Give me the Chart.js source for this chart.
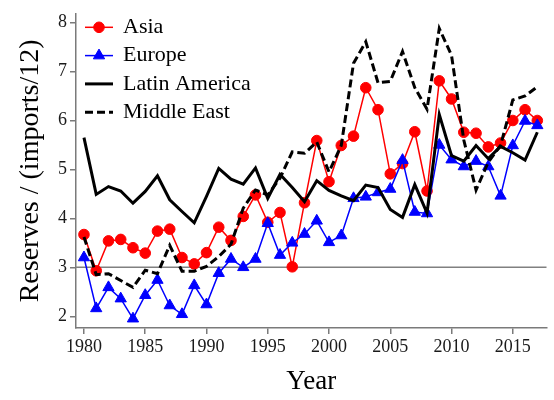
<!DOCTYPE html>
<html>
<head>
<meta charset="utf-8">
<script src="https://cdn.jsdelivr.net/npm/chart.js@4.4.1/dist/chart.umd.min.js"></script>
<style>
  html, body { margin: 0; padding: 0; background: #ffffff; }
</style>
</head>
<body>
<canvas id="reservesChart" width="554" height="400"></canvas>
<script>
// Reserves in months of imports, by region
const years = [1980, 1981, 1982, 1983, 1984, 1985, 1986, 1987, 1988, 1989,
               1990, 1991, 1992, 1993, 1994, 1995, 1996, 1997, 1998, 1999,
               2000, 2001, 2002, 2003, 2004, 2005, 2006, 2007, 2008, 2009,
               2010, 2011, 2012, 2013, 2014, 2015, 2016, 2017];

const asia = [3.67, 2.93, 3.54, 3.57, 3.40, 3.29, 3.74, 3.78, 3.20, 3.07,
              3.30, 3.82, 3.55, 4.04, 4.48, 3.92, 4.12, 3.01, 4.32, 5.59,
              4.75, 5.49, 5.68, 6.67, 6.22, 4.91, 5.12, 5.77, 4.56, 6.81,
              6.44, 5.76, 5.74, 5.46, 5.54, 6.00, 6.22, 6.00];

const europe = [3.20, 2.16, 2.59, 2.36, 1.95, 2.43, 2.74, 2.22, 2.04, 2.63,
                2.24, 2.88, 3.17, 3.00, 3.17, 3.90, 3.25, 3.50, 3.68, 3.95,
                3.51, 3.65, 4.41, 4.44, 4.53, 4.60, 5.19, 4.13, 4.10, 5.50,
                5.20, 5.06, 5.17, 5.06, 4.46, 5.49, 5.99, 5.90];

const latinAmerica = [5.65, 4.49, 4.65, 4.56, 4.31, 4.55, 4.87, 4.38, 4.14, 3.91,
                      4.45, 5.02, 4.80, 4.70, 5.03, 4.41, 4.90, 4.63, 4.34, 4.77,
                      4.57, 4.46, 4.36, 4.68, 4.63, 4.18, 4.02, 4.69, 4.11, 6.12,
                      5.28, 5.17, 5.49, 5.22, 5.47, 5.34, 5.19, 5.76];

const middleEast = [3.62, 2.85, 2.87, 2.73, 2.59, 2.94, 2.87, 3.45, 2.92, 2.92,
                    3.02, 3.22, 3.47, 4.21, 4.58, 4.48, 4.82, 5.36, 5.33, 5.56,
                    4.95, 5.49, 7.17, 7.61, 6.77, 6.80, 7.41, 6.67, 6.23, 7.88,
                    7.33, 5.60, 4.58, 5.15, 5.49, 6.42, 6.50, 6.69];

const xTicks = [1980, 1985, 1990, 1995, 2000, 2005, 2010, 2015];
const yTicks = [2, 3, 4, 5, 6, 7, 8];
const refLevel = 3;

const SERIF = '"Liberation Serif", "Times New Roman", serif';
const AXIS_GRAY = '#7a7a7a';

function toPoints(values) {
    return years.map((yr, i) => ({ x: yr, y: values[i] }));
}

// horizontal reference line, drawn under the series
const refLinePlugin = {
    id: 'refLine',
    beforeDatasetsDraw(chart) {
        const { ctx, chartArea, scales } = chart;
        const y = scales.y.getPixelForValue(refLevel);
        ctx.save();
        ctx.strokeStyle = '#808080';
        ctx.lineWidth = 1.5;
        ctx.beginPath();
        ctx.moveTo(chartArea.left, y);
        ctx.lineTo(chartArea.right, y);
        ctx.stroke();
        ctx.restore();
    }
};

// legend with line sample + marker, top-left inside the plot
const lineLegendPlugin = {
    id: 'lineLegend',
    afterDatasetsDraw(chart) {
        const { ctx, chartArea } = chart;
        const x0 = chartArea.left + 9;
        const sampleLen = 28;
        chart.data.datasets.forEach((ds, i) => {
            const y = chartArea.top + 13.5 + i * 28.3;
            ctx.save();
            ctx.strokeStyle = ds.borderColor;
            ctx.fillStyle = ds.borderColor;
            ctx.lineWidth = ds.borderWidth;
            ctx.setLineDash(ds.borderDash || []);
            ctx.beginPath();
            ctx.moveTo(x0, y);
            ctx.lineTo(x0 + sampleLen, y);
            ctx.stroke();
            ctx.setLineDash([]);
            if (ds.pointRadius > 0) {
                ctx.lineWidth = 1;
                Chart.helpers.drawPoint(ctx, {
                    pointStyle: ds.pointStyle,
                    radius: ds.pointRadius,
                    rotation: 0,
                    borderWidth: 1
                }, x0 + sampleLen / 2, y);
            }
            ctx.fillStyle = '#000000';
            ctx.font = '22px ' + SERIF;
            ctx.textAlign = 'left';
            ctx.textBaseline = 'middle';
            ctx.fillText(ds.label, x0 + sampleLen + 10, y);
            ctx.restore();
        });
    }
};

const ctx = document.getElementById('reservesChart').getContext('2d');

new Chart(ctx, {
    type: 'line',
    data: {
        datasets: [
            {
                label: 'Asia',
                data: toPoints(asia),
                borderColor: '#ff0000',
                backgroundColor: '#ff0000',
                borderWidth: 1.5,
                pointStyle: 'circle',
                pointRadius: 5.3,
                pointBorderWidth: 1,
                order: 4
            },
            {
                label: 'Europe',
                data: toPoints(europe),
                borderColor: '#0000ff',
                backgroundColor: '#0000ff',
                borderWidth: 1.5,
                pointStyle: 'triangle',
                pointRadius: 6.5,
                pointBorderWidth: 1,
                order: 3
            },
            {
                label: 'Latin America',
                data: toPoints(latinAmerica),
                borderColor: '#000000',
                backgroundColor: '#000000',
                borderWidth: 3,
                pointRadius: 0,
                order: 2
            },
            {
                label: 'Middle East',
                data: toPoints(middleEast),
                borderColor: '#000000',
                backgroundColor: '#000000',
                borderWidth: 3,
                borderDash: [8, 4],
                pointRadius: 0,
                order: 1
            }
        ]
    },
    options: {
        responsive: false,
        animation: false,
        layout: {
            padding: { top: 10, right: 2, left: 0, bottom: 0 }
        },
        elements: {
            line: { tension: 0, borderJoinStyle: 'miter' }
        },
        plugins: {
            legend: { display: false },
            tooltip: { enabled: false }
        },
        scales: {
            x: {
                type: 'linear',
                min: 1979.35,
                max: 2017.75,
                afterBuildTicks: (scale) => {
                    scale.ticks = xTicks.map(v => ({ value: v }));
                },
                afterFit: (scale) => { scale.height = 72; },
                grid: {
                    display: true,
                    drawOnChartArea: false,
                    drawTicks: true,
                    tickLength: 6,
                    color: AXIS_GRAY,
                    lineWidth: 1.5
                },
                border: { display: true, color: AXIS_GRAY, width: 1.5 },
                ticks: {
                    color: '#1a1a1a',
                    padding: 2,
                    maxRotation: 0,
                    font: { family: SERIF, size: 18 },
                    callback: (value) => String(value)
                },
                title: {
                    display: true,
                    text: 'Year',
                    color: '#000000',
                    font: { family: SERIF, size: 27 },
                    padding: { top: 0, bottom: 2 }
                }
            },
            y: {
                min: 1.76,
                max: 8.18,
                afterBuildTicks: (scale) => {
                    scale.ticks = yTicks.map(v => ({ value: v }));
                },
                afterFit: (scale) => { scale.width = 76; },
                grid: {
                    display: true,
                    drawOnChartArea: false,
                    drawTicks: true,
                    tickLength: 6,
                    color: AXIS_GRAY,
                    lineWidth: 1.5
                },
                border: { display: true, color: AXIS_GRAY, width: 1.5 },
                ticks: {
                    color: '#1a1a1a',
                    padding: 3,
                    font: { family: SERIF, size: 18 },
                    callback: (value) => String(value)
                },
                title: {
                    display: true,
                    text: 'Reserves / (imports/12)',
                    color: '#000000',
                    font: { family: SERIF, size: 28 },
                    padding: { top: 14, bottom: 0 }
                }
            }
        }
    },
    plugins: [refLinePlugin, lineLegendPlugin]
});
</script>
</body>
</html>
